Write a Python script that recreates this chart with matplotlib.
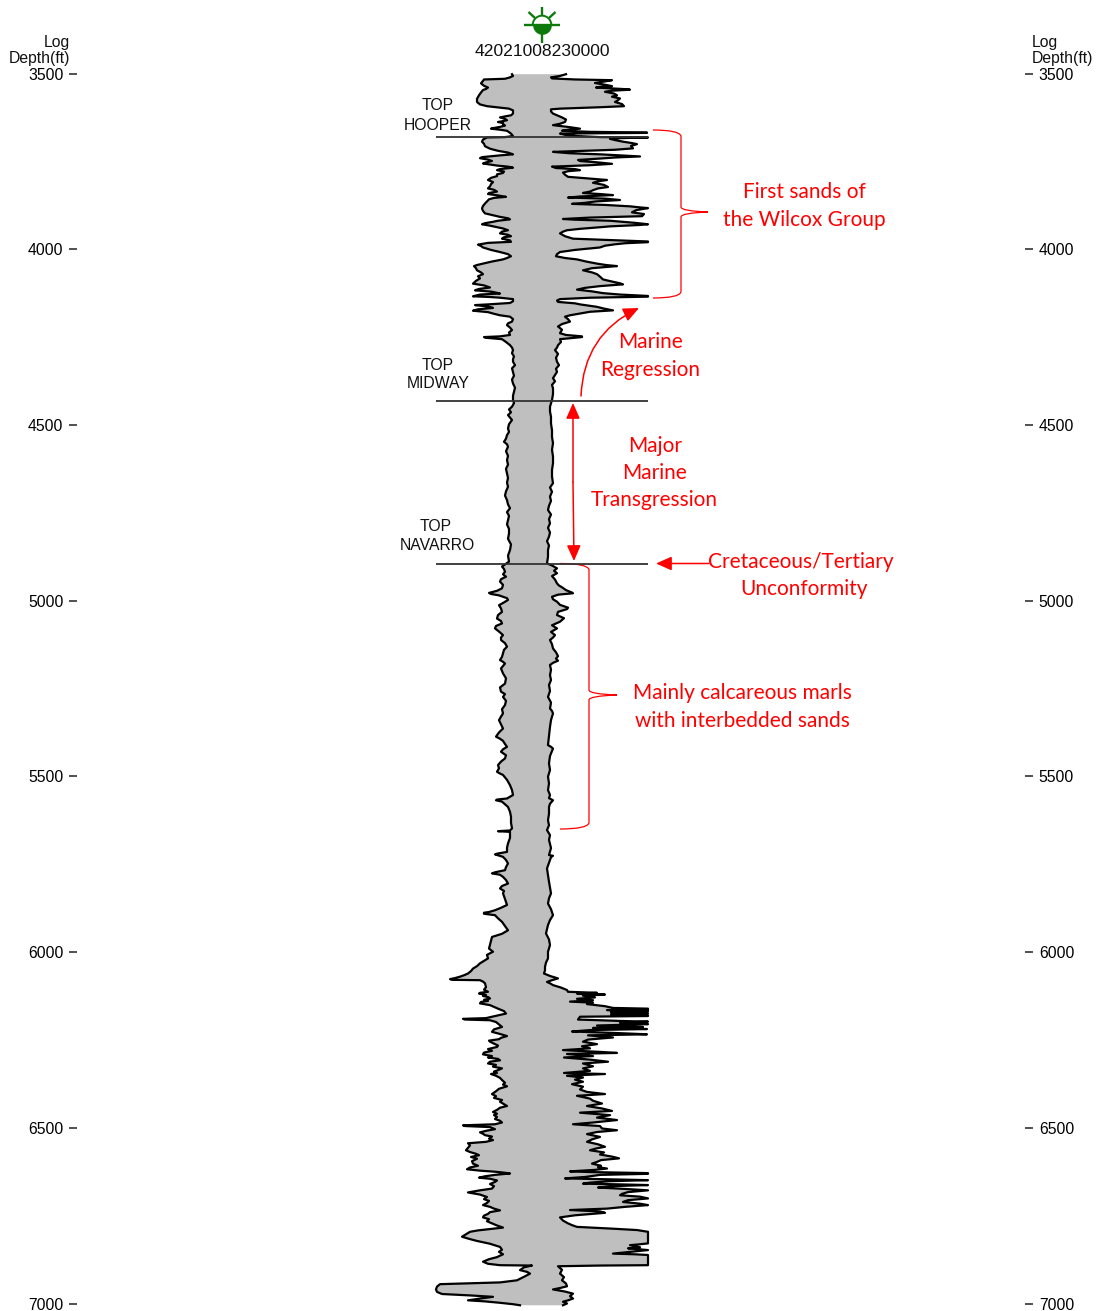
import numpy as np
import matplotlib
matplotlib.use('Agg')
import matplotlib.pyplot as plt
from matplotlib.path import Path
from matplotlib.patches import PathPatch

W, H = 1098, 1311

# (depth ft, log value); the log value is on the horizontal page scale
left_wilcox = [(3502,512),(3507,513),(3511,510),(3515,505),(3517,484),(3521,483),(3528,481),(3535,484),(3540,488),
    (3544,486),(3547,483),(3554,481),(3562,479),(3572,477),(3581,477),(3588,480),(3593,487),(3597,500),(3600,509),
    (3605,513),(3609,513),(3614,513),(3619,511),(3622,505),(3625,500),(3629,505),(3633,507),(3636,502),(3638,498),
    (3641,503),(3644,503),(3648,505),(3652,500),(3655,494),(3657,491),(3660,500),(3663,507),(3671,511),(3678,513),
    (3681,505),(3682,487),(3688,483),(3694,482),(3700,484),(3707,485),(3714,490),(3720,498),(3725,508),(3730,513),
    (3733,500),(3735,493),(3738,482),(3741,480),(3745,488),(3749,492),(3753,486),(3756,483),(3759,490),(3762,497),
    (3765,508),(3768,513),(3772,500),(3775,497),(3779,504),(3783,503),(3787,497),(3792,497),(3797,491),(3803,488),
    (3809,493),(3815,491),(3821,490),(3827,488),(3831,494),(3836,497),(3840,489),(3843,488),(3847,498),(3851,506),
    (3854,494),(3858,489),(3864,487),(3870,485),(3877,483),(3884,482),(3891,483),(3898,485),(3904,494),(3908,500),
    (3912,508),(3915,510),(3919,498),(3922,493),(3926,485),(3929,482),(3933,490),(3936,495),(3941,503),(3946,508),
    (3950,502),(3955,500),(3959,508),(3963,511),(3966,504),(3970,502),(3975,510),(3979,511),(3982,488),(3987,478),
    (3991,481),(3995,483),(4002,491),(4008,500),(4014,508),(4020,511),(4025,507),(4029,503),(4035,492),(4041,483),
    (4045,477),(4048,474),(4054,476),(4060,477),(4066,481),(4071,483),(4077,478),(4083,480),(4090,476),(4098,473),
    (4103,484),(4109,490),(4113,479),(4117,475),(4121,492),(4126,500),(4129,480),(4134,473),(4136,490),(4138,500),
    (4142,513),(4148,513),(4153,510),(4157,488),(4159,475),(4163,488),(4167,493),(4171,478),(4175,473),(4179,488),
    (4183,493),(4188,500),(4192,510)]
left_midway = [(4199,513),(4206,512),(4211,508),(4216,507),(4223,510),(4230,512),(4237,509),(4244,510),(4248,500),
    (4250,484),(4252,486),(4256,502),(4264,506),(4273,510),(4280,512),(4287,513),(4296,512),(4305,514),(4313,513),
    (4320,513),(4330,515),(4339,512),(4349,513),(4360,514),(4371,512),(4382,513),(4394,515),(4405,514),(4417,513),
    (4429,513),(4438,514),(4448,512),(4456,509),(4464,511),(4472,508),(4479,510),(4486,512),(4498,509),(4510,508),
    (4520,509),(4529,507),(4539,506),(4548,504),(4555,507),(4562,508),(4575,506),(4588,508),(4600,507),(4613,508),
    (4625,506),(4638,507),(4651,508),(4664,507),(4676,508),(4689,506),(4701,505),(4714,507),(4726,508),(4737,510),
    (4748,507),(4759,509),(4771,508),(4783,507),(4796,509),(4809,509),(4824,508),(4840,511),(4856,510),(4872,508),
    (4889,509)]
left_navarro = [(4897,505),(4903,502),(4910,504),(4918,505),(4925,503),(4932,506),(4939,501),(4946,500),(4955,503),
    (4965,502),(4972,497),(4978,489),(4981,491),(4985,499),(4989,503),(4993,507),(4998,508),(5005,504),(5013,499),
    (5022,501),(5032,502),(5041,498),(5051,497),(5058,501),(5065,502),(5072,496),(5079,495),(5088,499),(5098,503),
    (5105,501),(5112,501),(5121,505),(5131,507),(5140,504),(5150,503),(5160,502),(5169,500),(5174,503),(5179,505),
    (5193,501),(5207,503),(5221,506),(5236,505),(5247,500),(5259,501),(5266,505),(5274,503),(5285,506),(5297,505),
    (5309,502),(5321,503),(5330,501),(5340,499),(5352,501),(5364,503),(5375,499),(5387,496),(5393,500),(5399,503),
    (5408,505),(5416,507),(5423,503),(5430,501),(5440,506),(5449,505),(5458,501),(5468,498),(5477,499),(5487,497),
    (5492,500),(5496,503),(5510,507),(5525,510),(5539,512),(5553,513),(5558,510),(5563,507),(5566,497),(5568,496),
    (5572,502),(5587,508),(5601,510),(5615,511),(5632,511),(5648,512),(5654,510),(5656,498),(5658,510),(5675,510),
    (5691,508),(5703,507),(5715,507),(5720,497),(5722,495),(5729,503),(5738,506),(5748,508),(5758,506),(5767,505),
    (5773,495),(5776,492),(5780,500),(5786,503),(5795,506),(5805,508),(5812,502),(5819,500),(5826,504),(5833,503),
    (5849,505),(5866,507),(5874,501),(5881,495),(5886,489),(5888,484),(5891,484),(5895,495),(5904,498),(5914,502),
    (5926,505),(5938,508),(5948,502),(5957,492),(5968,491),(5980,490),(5990,489),(5999,493),(6008,487),(6018,488)]
left_lower = [(6025,484),(6032,480),(6040,477),(6047,473),(6054,471),(6061,468),(6066,464),(6070,460),(6074,455),
    (6077,450),(6079,452),(6080,480),(6084,483),(6089,485),(6100,486),(6107,484),(6113,488),(6116,480),(6118,479),
    (6122,486),(6125,483),(6128,488),(6132,490),(6136,484),(6139,488),(6142,481),(6146,480),(6151,490),(6156,494),
    (6161,498),(6168,504),(6175,506),(6180,498),(6184,492),(6188,486),(6190,463),(6192,465),(6194,490),(6199,496),
    (6206,499),(6213,502),(6220,494),(6227,492),(6233,500),(6239,507),(6244,501),(6248,499),(6252,489),(6255,490),
    (6262,495),(6266,498),(6270,497),(6276,488),(6281,492),(6286,484),(6291,483),(6296,492),(6300,488),(6304,498),
    (6308,500),(6312,490),(6317,488),(6321,496),(6326,493),(6331,502),(6336,498),(6340,494),(6344,497),(6347,491),
    (6352,496),(6358,500),(6364,502),(6372,505),(6377,503),(6382,507),(6389,499),(6396,496),(6404,492),(6410,496),
    (6415,494),(6421,502),(6426,500),(6431,503),(6438,507),(6443,500),(6449,497),(6455,493),(6460,497),(6464,494),
    (6469,497),(6475,495),(6480,500),(6485,502),(6490,495),(6493,463),(6495,465),(6498,490),(6504,495),(6508,487),
    (6513,480),(6517,483),(6521,485),(6525,492),(6531,489),(6535,493),(6540,486),(6544,468),(6550,470),(6557,468),
    (6564,466),(6569,470),(6574,476),(6578,479),(6583,471),(6588,477),(6595,472),(6602,473),(6608,478),(6613,470),
    (6618,467),(6622,480),(6625,495),(6628,505),(6630,510),(6634,495),(6638,485),(6642,479),(6645,490),(6650,497),
    (6654,495),(6660,490),(6666,494),(6673,492),(6678,480),(6684,468),(6690,480),(6697,487),(6703,484),(6708,489),
    (6714,487),(6720,483),(6725,490),(6730,494),(6735,500),(6740,490),(6745,488),(6750,484),(6755,483),(6760,489),
    (6766,487),(6772,492),(6778,497),(6784,503),(6788,490),(6792,478),(6796,470),(6803,466),(6810,462),(6816,469),
    (6822,477),(6830,490),(6839,500),(6847,502),(6853,499),(6860,503),(6868,497),(6874,489),(6881,483),(6887,488),
    (6891,500),(6892,532),(6897,524),(6905,520),(6910,527),(6915,530),(6924,524),(6934,517),(6940,500),(6945,440),
    (6952,437),(6960,436),(6967,437),(6973,442),(6977,470),(6981,493),(6986,480),(6991,468),(6994,485),(6998,500),
    (7002,513),(7005,520)]

right_wilcox = [(3502,566),(3507,560),(3511,551),(3514,552),(3517,575),(3519,612),(3522,606),(3527,595),(3532,605),
    (3536,612),(3538,600),(3540,596),(3544,622),(3546,630),(3549,612),(3552,605),(3557,614),(3562,617),(3566,612),
    (3571,620),(3576,618),(3581,615),(3587,622),(3593,624),(3596,600),(3600,560),(3602,551),(3608,551),(3614,553),
    (3620,558),(3625,562),(3631,566),(3638,565),(3643,560),(3647,553),(3652,568),(3657,580),(3660,568),(3663,562),
    (3666,590),(3668,647),(3669,647),(3671,560),(3675,566),(3678,577),(3681,600),(3682,648),(3684,620),(3686,610),
    (3690,616),(3694,623),(3698,632),(3701,637),(3706,631),(3713,633),(3717,615),(3721,575),(3723,553),(3727,570),
    (3730,600),(3734,628),(3736,640),(3739,615),(3742,600),(3746,578),(3749,580),(3753,598),(3757,612),(3761,590),
    (3765,552),(3769,556),(3772,575),(3775,580),(3778,568),(3782,563),(3788,565),(3794,568),(3799,590),(3803,607),
    (3807,598),(3811,593),(3817,604),(3823,608),(3827,598),(3832,593),(3836,590),(3840,583),(3843,600),(3846,613),
    (3850,580),(3853,568),(3856,605),(3860,620),(3864,596),(3868,585),(3871,572),(3874,605),(3878,630),(3881,640),
    (3883,648),(3889,636),(3895,632),(3900,644),(3906,642),(3910,590),(3914,563),(3916,575),(3919,610),(3925,635),
    (3929,648),(3931,640),(3935,610),(3937,602),(3942,580),(3946,567),(3950,563),(3955,560),(3963,565),(3970,573),
    (3975,620),(3978,648),(3980,648),(3983,625),(3986,615),(3990,605),(3995,600),(4002,575),(4008,560),(4014,557),
    (4020,556),(4025,565),(4029,577),(4035,586),(4041,597),(4045,606),(4048,617),(4054,592),(4060,583),(4066,592),
    (4071,597),(4078,600),(4086,603),(4092,612),(4097,620),(4100,623),(4105,600),(4110,585),(4115,577),(4120,592),
    (4125,603),(4129,620),(4133,648),(4135,648),(4138,590),(4142,560),(4146,557),(4150,558),(4154,575),(4157,580),
    (4161,590),(4164,597),(4169,604),(4174,613),(4178,590),(4183,580),(4188,570),(4192,565)]
right_midway = [(4199,568),(4206,570),(4213,562),(4220,558),(4229,562),(4239,560),(4244,566),(4248,582),(4250,582),
    (4256,560),(4264,561),(4273,558),(4280,557),(4287,555),(4298,558),(4309,556),(4320,557),(4330,559),(4340,556),
    (4349,557),(4358,555),(4367,553),(4376,555),(4386,552),(4396,553),(4412,553),(4429,552),(4438,551),(4448,550),
    (4462,550),(4477,551),(4496,551),(4515,552),(4534,552),(4552,553),(4571,552),(4590,553),(4609,553),(4628,552),
    (4647,552),(4666,553),(4678,550),(4690,552),(4704,550),(4716,551),(4730,549),(4742,548),(4755,551),(4768,549),
    (4780,550),(4793,548),(4806,550),(4818,549),(4831,547),(4843,549),(4856,548),(4875,548),(4894,547)]
right_navarro = [(4900,552),(4908,557),(4915,554),(4922,557),(4930,552),(4940,555),(4951,557),(4957,559),(4962,562),
    (4970,566),(4977,572),(4979,573),(4983,558),(4989,552),(4996,553),(5003,557),(5012,560),(5020,568),(5024,567),
    (5032,558),(5041,557),(5050,564),(5060,560),(5070,552),(5079,557),(5089,551),(5098,555),(5105,553),(5112,550),
    (5124,552),(5136,553),(5147,556),(5158,558),(5165,556),(5171,558),(5177,553),(5183,550),(5197,551),(5212,550),
    (5226,551),(5240,549),(5257,550),(5274,548),(5290,551),(5307,550),(5314,552),(5321,553),(5340,551),(5359,550),
    (5385,549),(5411,548),(5416,551),(5421,553),(5442,550),(5463,549),(5482,550),(5501,548),(5520,549),(5539,548),
    (5553,550),(5562,549),(5568,553),(5578,550),(5587,549),(5606,549),(5625,548),(5639,549),(5653,547),(5667,550),
    (5681,549),(5704,551),(5724,549),(5726,553),(5730,551),(5746,549),(5762,547),(5781,548),(5800,549),(5816,550),
    (5833,551),(5847,549),(5862,548),(5878,551),(5895,553),(5909,550),(5923,548),(5935,547),(5947,546),(5964,549),
    (5980,550),(5999,548),(6018,548)]
right_lower = [(6030,546),(6042,545),(6052,545),(6061,544),(6068,550),(6075,558),(6080,552),(6085,547),(6089,550),
    (6094,553),(6101,561),(6108,567),(6113,568),(6116,597),(6118,577),(6121,605),(6124,583),(6129,595),(6133,577),
    (6137,593),(6141,570),(6144,593),(6148,587),(6154,605),(6159,613),(6161,648),(6163,648),(6165,607),(6168,648),
    (6171,611),(6174,648),(6177,611),(6180,648),(6182,648),(6184,580),(6192,578),(6196,620),(6198,648),(6201,620),
    (6205,648),(6209,597),(6213,643),(6216,593),(6219,647),(6222,590),(6226,572),(6230,613),(6234,647),(6237,588),
    (6243,613),(6249,588),(6255,583),(6262,597),(6268,582),(6274,590),(6279,563),(6284,600),(6287,617),(6290,567),
    (6296,593),(6300,564),(6306,590),(6312,608),(6317,583),(6325,593),(6331,583),(6338,590),(6344,564),(6347,605),
    (6352,567),(6357,583),(6363,575),(6369,583),(6376,572),(6383,583),(6391,580),(6398,587),(6404,605),(6409,577),
    (6417,590),(6423,593),(6431,602),(6438,587),(6445,602),(6452,612),(6457,580),(6464,610),(6471,597),(6478,617),
    (6485,593),(6490,573),(6495,600),(6502,602),(6507,617),(6512,597),(6518,587),(6526,600),(6533,592),(6540,587),
    (6547,598),(6554,605),(6559,596),(6564,590),(6570,604),(6576,600),(6582,612),(6587,619),(6592,601),(6597,597),
    (6602,592),(6608,601),(6612,598),(6616,607),(6620,594),(6624,570),(6626,590),(6629,648),(6631,648),(6634,600),
    (6640,585),(6644,565),(6646,600),(6649,648),(6652,610),(6656,590),(6659,583),(6661,620),(6663,648),(6666,612),
    (6670,598),(6674,625),(6678,648),(6683,628),(6688,622),(6692,620),(6696,640),(6701,648),(6706,628),(6711,623),
    (6716,640),(6720,648),(6725,625),(6730,607),(6734,570),(6738,600),(6742,605),(6749,575),(6755,560),(6764,563),
    (6772,568),(6777,572),(6782,577),(6787,612),(6791,637),(6796,648),(6812,648),(6829,648),(6832,638),(6834,630),
    (6840,640),(6843,628),(6848,648),(6853,630),(6856,620),(6858,613),(6860,635),(6862,648),(6877,648),(6891,648),
    (6892,600),(6894,558),(6904,562),(6915,560),(6925,564),(6934,562),(6943,566),(6951,567),(6956,560),(6960,553),
    (6966,565),(6972,573),(6979,570),(6986,573),(6991,568),(6995,563),(7000,567),(7005,563)]

top_depths = [3681, 4431, 4895]
top_labels = ['HOOPER', 'MIDWAY', 'NAVARRO']
depth_ticks = [3500, 4000, 4500, 5000, 5500, 6000, 6500, 7000]
well_name = '42021008230000'

RED = '#ff0000'
plt.rcParams['font.family'] = ['Liberation Sans', 'DejaVu Sans']


def yd(y):
    # page pixel row to depth
    return 3500 + (y - 73.5) * 3500 / 1230


def ftext(x, y, s, **kw):
    fig.text(x / W, 1 - y / H, s, ha='center', va='center', **kw)


def rtext(x, y, s):
    ftext(x, y + 1, s, color=RED, fontsize=15, family='Lato')


def brace(x0, xm, xt, y0, ym, y1):
    verts = [(x0, y0), (xm - 2, y0), (xm, y0 + 6), (xm, ym - 5), (xm, ym - 1), (xt, ym),
             (xm, ym + 1), (xm, ym + 5), (xm, y1 - 6), (xm - 2, y1), (x0, y1)]
    verts = [(a, yd(b)) for a, b in verts]
    codes = [Path.MOVETO, Path.CURVE3, Path.CURVE3, Path.LINETO, Path.CURVE3, Path.CURVE3,
             Path.CURVE3, Path.CURVE3, Path.LINETO, Path.CURVE3, Path.CURVE3]
    ax.add_patch(PathPatch(Path(verts, codes), fc='none', ec=RED, lw=0.9, clip_on=False))


left = np.array(left_wilcox + left_midway + left_navarro + left_lower)
right = np.array(right_wilcox + right_midway + right_navarro + right_lower)

fig = plt.figure(figsize=(W / 100, H / 100), dpi=100)
ax = fig.add_axes([77 / W, (H - 1303.5) / H, 948 / W, 1230 / H])
ax.set_xlim(77, 1025)
ax.set_ylim(7000, 3500)
for s in ax.spines.values():
    s.set_visible(False)
ax.set_xticks([])
ax.set_yticks(depth_ticks)
ax.tick_params(axis='y', left=True, right=True, labelleft=True, labelright=True,
               length=5.5, width=1.1, pad=4.4, labelsize=11.3, color='#222222')

# grey fill between the two curves, then the curves
ax.fill(np.r_[left[:, 1], right[::-1, 1]], np.r_[left[:, 0], right[::-1, 0]],
        color='#bfbfbf', lw=0, clip_on=False)
ax.plot(left[:, 1], left[:, 0], color='black', lw=1.6, clip_on=False)
ax.plot(right[:, 1], right[:, 0], color='black', lw=1.6, clip_on=False)

# formation tops
ax.hlines(top_depths, 436, 648, color='#333333', lw=1.3)
for (x, y), lab in zip([(438, 106), (438, 366), (436, 527)], top_labels):
    ftext(x, y, 'TOP', fontsize=11.3, color='#111111')
for (x, y), lab in zip([(438, 125), (438, 384), (437, 545)], top_labels):
    ftext(x, y, lab, fontsize=11.3, color='#111111')

# headers
ftext(57, 42, 'Log', fontsize=11.3, color='#111111')
ftext(39.5, 58, 'Depth(ft)', fontsize=11.3, color='#111111')
ftext(1045, 42, 'Log', fontsize=11.3, color='#111111')
ftext(1062.5, 58, 'Depth(ft)', fontsize=11.3, color='#111111')
ftext(542, 51, well_name, fontsize=12.6, color='#111111')

# well symbol
GREEN = '#0b7a0b'
sym = fig.add_axes([(542 - 20) / W, 1 - (25 + 20) / H, 40 / W, 40 / H])
sym.set_xlim(-20, 20)
sym.set_ylim(-20, 20)
sym.axis('off')
for xs, ys in [((-18, 18), (0, 0)), ((0, 0), (9, 18)), ((0, 0), (-9, -18)),
               ((-7, -13.5), (7, 13)), ((7, 13.5), (7, 13))]:
    sym.plot(xs, ys, color=GREEN, lw=1.7, solid_capstyle='butt')
t = np.linspace(0, np.pi, 60)
sym.plot(9.3 * np.cos(t), 9.3 * np.sin(t), color=GREEN, lw=1.4)
sym.fill_between(9.3 * np.cos(t), -9.3 * np.sin(t), 0, color=GREEN, lw=0)

# red notes
brace(653, 681, 708, 130, 212, 298)
brace(560, 589, 617, 563.5, 695, 829)
arrow = dict(arrowstyle='-|>,head_length=0.95,head_width=0.42', color=RED, lw=1.1,
             shrinkA=0, shrinkB=0)
ax.annotate('', xy=(639, yd(308)), xytext=(581, yd(396)), annotation_clip=False,
            arrowprops=dict(arrow, connectionstyle='arc3,rad=-0.3'))
ax.annotate('', xy=(573, yd(403)), xytext=(573, yd(482)), annotation_clip=False, arrowprops=arrow)
ax.annotate('', xy=(574, yd(561)), xytext=(573, yd(482)), annotation_clip=False, arrowprops=arrow)
ax.annotate('', xy=(656, yd(563.5)), xytext=(709, yd(563.5)), annotation_clip=False, arrowprops=arrow)

rtext(804, 191, 'First sands of')
rtext(804, 219, 'the Wilcox Group')
rtext(650, 341, 'Marine')
rtext(650, 369, 'Regression')
rtext(655, 445, 'Major')
rtext(655, 472, 'Marine')
rtext(654, 499, 'Transgression')
rtext(801, 561, 'Cretaceous/Tertiary')
rtext(804, 588, 'Unconformity')
rtext(742, 692, 'Mainly calcareous marls')
rtext(742, 720, 'with interbedded sands')

fig.savefig('out.png', dpi=100)
